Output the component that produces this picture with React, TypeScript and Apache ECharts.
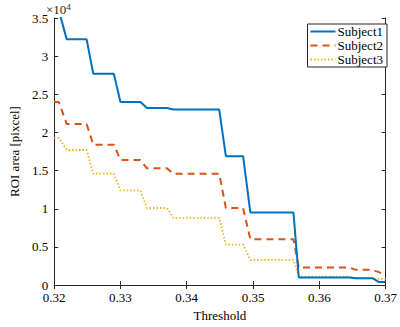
import React, { useEffect, useRef } from "react";
import * as echarts from "echarts";

const thresholds = [0.32, 0.3207, 0.3219, 0.3249, 0.3259, 0.329, 0.33, 0.333, 0.334, 0.337, 0.338, 0.3449, 0.3459, 0.3485, 0.3496, 0.3561, 0.3569, 0.3645, 0.3655, 0.368, 0.369, 0.37];
const subject1 = [3.6, 3.6, 3.22, 3.22, 2.77, 2.77, 2.4, 2.4, 2.32, 2.32, 2.3, 2.3, 1.69, 1.69, 0.95, 0.95, 0.1, 0.1, 0.09, 0.09, 0.04, 0.04];
const subject2 = [2.4, 2.4, 2.11, 2.11, 1.84, 1.84, 1.64, 1.64, 1.53, 1.53, 1.46, 1.46, 1.01, 1.01, 0.6, 0.6, 0.23, 0.23, 0.2, 0.2, 0.17, 0.13];
const subject3 = [1.93, 1.93, 1.77, 1.77, 1.46, 1.46, 1.24, 1.24, 1.01, 1.01, 0.88, 0.88, 0.53, 0.53, 0.33, 0.33, 0.11, 0.11, 0.09, 0.09, 0.08, 0.08];
const seriesNames = ["Subject1", "Subject2", "Subject3"];
const xTicks = [0.32, 0.33, 0.34, 0.35, 0.36, 0.37];
const yTicks = [0, 0.5, 1, 1.5, 2, 2.5, 3, 3.5];

const FONT = "Liberation Serif";
const AXIS = "#262626";

export default function App() {
  const ref = useRef<HTMLDivElement>(null);
  useEffect(() => {
    if (!ref.current) return;
    const chart = echarts.init(ref.current, undefined, { renderer: "svg" });
    const pair = (ys: number[]) => thresholds.map((x, i) => [x, ys[i]]);
    const xBase = {
      type: "value" as const,
      min: xTicks[0],
      max: xTicks[xTicks.length - 1],
      interval: 0.01,
      axisLine: { show: true, lineStyle: { color: AXIS, width: 1 } },
      axisTick: { show: true, inside: true, length: 4, lineStyle: { color: AXIS } },
      splitLine: { show: false },
    };
    const yBase = {
      type: "value" as const,
      min: yTicks[0],
      max: yTicks[yTicks.length - 1],
      interval: 0.5,
      axisLine: { show: true, lineStyle: { color: AXIS, width: 1 } },
      axisTick: { show: true, inside: true, length: 4, lineStyle: { color: AXIS } },
      splitLine: { show: false },
    };
    const colors = ["#0072BD", "#D95319", "#EDB120"];
    const dashes: any[] = ["solid", [7, 5], [1.5, 2]];
    const widths = [2, 2, 1.8];
    const datas = [subject1, subject2, subject3];
    chart.setOption({
      animation: false,
      textStyle: { fontFamily: FONT },
      grid: { left: 45, right: 8, top: 18, bottom: 35, containLabel: false },
      legend: {
        right: 13,
        top: 24,
        orient: "vertical",
        backgroundColor: "#fff",
        borderColor: AXIS,
        borderWidth: 1,
        borderRadius: 0,
        padding: [1, 4, 1, 2],
        itemGap: 1,
        itemWidth: 25,
        itemHeight: 14,
        itemStyle: { opacity: 0 },
        textStyle: { fontFamily: FONT, fontSize: 13, color: "#000", padding: [0, 0, 0, -3] },
        data: seriesNames,
      },
      xAxis: [
        {
          ...xBase,
          position: "bottom",
          name: "Threshold",
          nameLocation: "middle",
          nameGap: 19,
          nameTextStyle: { fontFamily: FONT, fontSize: 13, color: "#000" },
          axisLabel: { fontFamily: FONT, fontSize: 13, lineHeight: 13, color: "#000", margin: 6 },
        },
        { ...xBase, position: "top", axisLabel: { show: false } },
      ],
      yAxis: [
        {
          ...yBase,
          position: "left",
          name: "ROI area [pixcel]",
          nameLocation: "middle",
          nameGap: 29,
          nameTextStyle: { fontFamily: FONT, fontSize: 13, color: "#000" },
          axisLabel: { fontFamily: FONT, fontSize: 13, lineHeight: 11, color: "#000", margin: 6 },
        },
        { ...yBase, position: "right", axisLabel: { show: false } },
      ],
      series: seriesNames.map((name, i) => ({
        name,
        type: "line",
        xAxisIndex: 0,
        yAxisIndex: 0,
        data: pair(datas[i]),
        symbol: "none",
        clip: true,
        color: colors[i],
        lineStyle: { color: colors[i], width: widths[i], type: dashes[i] },
        z: 3 - i,
      })),
      graphic: [
        {
          type: "text",
          left: 46,
          top: 2,
          style: {
            text: "×10{sup|4}",
            fontFamily: FONT,
            fontSize: 13,
            fill: "#262626",
            rich: {
              sup: { fontSize: 9, fontFamily: FONT, fill: "#262626", verticalAlign: "top", padding: [0, 0, 6, 0] },
            },
          },
        },
      ],
    });
    return () => chart.dispose();
  }, []);
  return <div ref={ref} style={{ width: 400, height: 327, position: "absolute", left: 0, top: 0 }} />;
}
